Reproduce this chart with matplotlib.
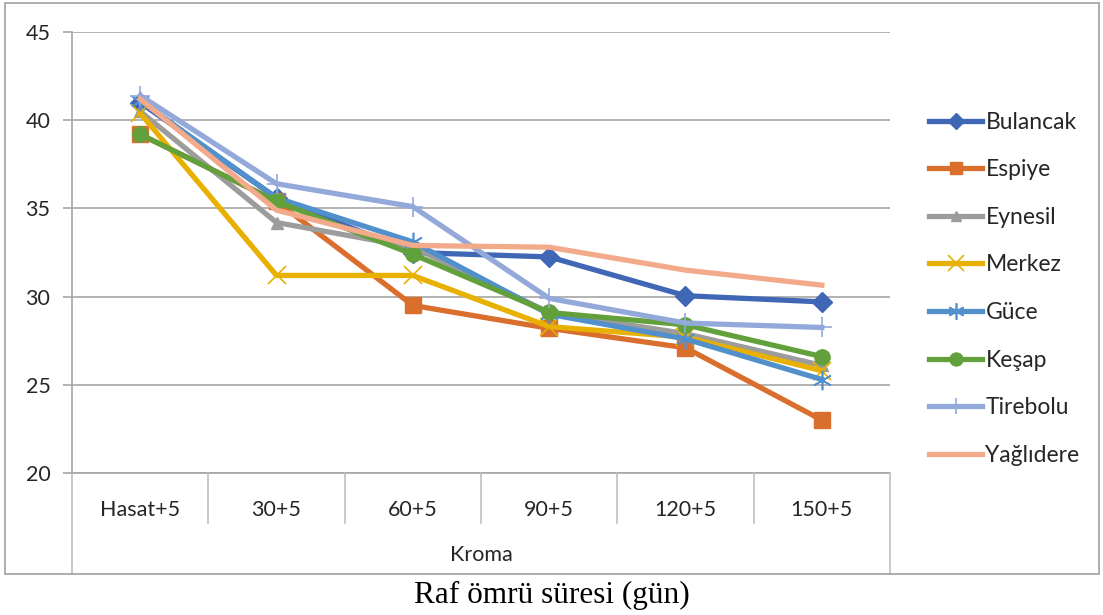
import matplotlib.pyplot as plt
from matplotlib.lines import Line2D
from matplotlib.patches import Rectangle
import matplotlib.transforms as mtransforms

plt.rcParams['font.family'] = ['Lato', 'DejaVu Sans']

# Storage periods (x categories)
periods = ['Hasat+5', '30+5', '60+5', '90+5', '120+5', '150+5']

# Chroma values per location
bulancak = [41.0, 35.6, 32.5, 32.25, 30.05, 29.7]
espiye = [39.2, 35.4, 29.5, 28.2, 27.1, 23.0]
eynesil = [40.5, 34.2, 32.8, 29.1, 27.9, 26.1]
merkez = [40.4, 31.2, 31.2, 28.3, 27.7, 25.8]
guce = [41.1, 35.6, 33.1, 29.0, 27.6, 25.3]
kesap = [39.2, 35.4, 32.4, 29.1, 28.4, 26.6]
tirebolu = [41.4, 36.4, 35.1, 29.9, 28.5, 28.25]
yaglidere = [41.2, 34.9, 32.9, 32.8, 31.5, 30.65]

series = [
    ('Bulancak', bulancak, '#3F67B5', dict(marker='D', markersize=10)),
    ('Espiye', espiye, '#DA6E2C', dict(marker='s', markersize=11)),
    ('Eynesil', eynesil, '#9C9C9C', dict(marker='^', markersize=9)),
    ('Merkez', merkez, '#E8B000', dict(marker='x', markersize=13, markeredgewidth=1.2)),
    ('Güce', guce, '#5290CC', dict(marker=(6, 2, 0), markersize=14, markeredgewidth=1.2)),
    ('Keşap', kesap, '#62A03C', dict(marker='o', markersize=11)),
    ('Tirebolu', tirebolu, '#93A9DA', dict(marker='+', markersize=14, markeredgewidth=1.2)),
    ('Yağlıdere', yaglidere, '#F2AA8A', dict(marker=None)),
]

fig = plt.figure(figsize=(11.03, 6.15), dpi=100)
ax = fig.add_axes([72 / 1103, 1 - 473 / 615, (890 - 72) / 1103, (473 - 32) / 615])

x = list(range(len(periods)))
for name, vals, col, mk in series:
    ax.plot(x, vals, color=col, lw=3.8, label=name, solid_joinstyle='round',
            markerfacecolor=col, markeredgecolor=col, **mk)

ax.set_xlim(-0.5, len(periods) - 0.5)
ax.set_ylim(20, 45)
ax.set_yticks(range(20, 46, 5))
ax.yaxis.grid(True, color='#A6A6A6', lw=1.2)
ax.set_axisbelow(True)
ax.set_xticks([])
for s in ['top', 'right', 'bottom']:
    ax.spines[s].set_visible(False)
ax.spines['left'].set_color('#A6A6A6')
ax.spines['left'].set_linewidth(1.2)
ax.tick_params(axis='y', length=6.5, width=1.2, color='#A6A6A6', pad=9,
               labelsize=15.5, labelcolor='#262626')

# Two-level category axis drawn below the plot
trans = mtransforms.blended_transform_factory(ax.transData, ax.transAxes)
line_kw = dict(color='#BFBFBF', lw=1.2, transform=trans, clip_on=False)
ax.add_line(Line2D([-0.5, 5.5], [0, 0], color='#A6A6A6', lw=1.2,
                   transform=trans, clip_on=False))
for k in range(1, len(periods)):
    ax.add_line(Line2D([k - 0.5, k - 0.5], [0, -0.113], **line_kw))
for xe in (-0.5, len(periods) - 0.5):
    ax.add_line(Line2D([xe, xe], [0, -0.229], **line_kw))
for i, p in enumerate(periods):
    ax.text(i, -0.084, p, transform=trans, ha='center', va='center',
            fontsize=15.5, color='#262626')
ax.text(2.5, -0.186, 'Kroma', transform=trans, ha='center', va='center',
        fontsize=15.5, color='#262626')

leg = ax.legend(loc='upper left', bbox_to_anchor=(908 / 1103, 1 - 91 / 615),
                bbox_transform=fig.transFigure, frameon=False, fontsize=16.5,
                handlelength=2.35, handletextpad=0.13, labelspacing=1.16,
                markerscale=0.85)
for t in leg.get_texts():
    t.set_color('#262626')

# Chart border
fig.patches.append(Rectangle((5 / 1103, 1 - 574 / 615), 1094 / 1103, 571 / 615,
                             transform=fig.transFigure, fill=False,
                             edgecolor='#A0A0A0', lw=1.2))

fig.text(0.5, 1 - 595 / 615, 'Raf ömrü süresi (gün)', ha='center', va='center',
         fontsize=22.5, family=['Liberation Serif', 'DejaVu Serif'])

fig.savefig('out.png', dpi=100)
